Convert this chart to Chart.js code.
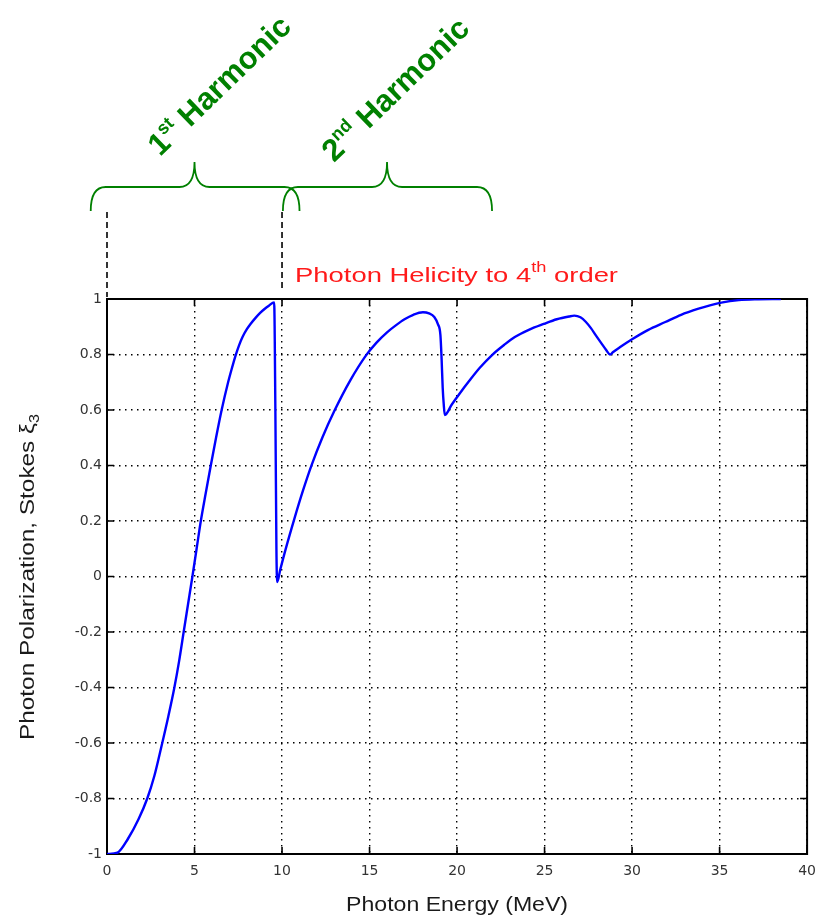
<!DOCTYPE html>
<html>
<head>
<meta charset="utf-8">
<script src="https://cdn.jsdelivr.net/npm/chart.js@4.4.1/dist/chart.umd.min.js"></script>
<style>
    body { margin: 0; background: #fff; }
    #wrap { width: 825px; height: 918px; }
</style>
</head>
<body>
<div id="wrap"><canvas id="helicity-chart" width="825" height="918"></canvas></div>
<script>
// photon energy (MeV) and Stokes xi3
var energy = [0, 0.6, 1.2, 1.8, 2.3, 2.7, 3.1, 3.5, 3.85, 4.12, 4.38, 4.63, 4.88, 5.12, 5.36, 5.64, 5.93,
    6.23, 6.55, 6.92, 7.12, 7.35, 7.55, 7.75, 8.0, 8.2, 8.5, 8.75, 9.0, 9.25, 9.55, 9.62, 9.68, 9.72,
    9.9, 10.2, 10.7, 11.2, 11.7, 12.3, 13.0, 13.9, 14.8, 15.4, 16.0, 16.5, 17.0, 17.5, 18.05, 18.4, 18.7,
    18.9, 19.05, 19.12, 19.18, 19.24, 19.3, 19.7, 20.1, 20.7, 21.3, 22.0, 22.7, 23.3, 24.1, 24.95, 25.7,
    26.4, 26.7, 27.05, 27.35, 27.65, 27.95, 28.25, 28.5, 28.75, 28.9, 29.3, 30.0, 30.9, 31.9, 32.8, 33.8,
    34.5, 35.1, 36.1, 37.0, 38.5];
var stokes = [-1, -0.995, -0.945, -0.875, -0.8, -0.72, -0.615, -0.505, -0.4, -0.305, -0.2, -0.1, 0, 0.1, 0.2, 0.3, 0.4,
    0.5, 0.6, 0.7, 0.747, 0.797, 0.834, 0.864, 0.892, 0.91, 0.933, 0.95, 0.964, 0.976, 0.988, 0.6, 0.1, -0.02,
    0.025, 0.097, 0.207, 0.31, 0.403, 0.5, 0.598, 0.707, 0.797, 0.843, 0.88, 0.905, 0.927, 0.943, 0.952, 0.948, 0.935,
    0.91, 0.87, 0.78, 0.68, 0.62, 0.582, 0.62, 0.655, 0.705, 0.752, 0.798, 0.835, 0.863, 0.889, 0.91, 0.927,
    0.937, 0.94, 0.934, 0.918, 0.895, 0.867, 0.84, 0.818, 0.8, 0.808, 0.826, 0.855, 0.888, 0.917, 0.943, 0.965,
    0.978, 0.987, 0.996, 0.999, 1.0];

var xTickValues = [0, 5, 10, 15, 20, 25, 30, 35, 40];
var yTickValues = [-1, -0.8, -0.6, -0.4, -0.2, 0, 0.2, 0.4, 0.6, 0.8, 1];

// harmonic brackets over the energy axis
var harmonics = [
    {num: '1', sup: 'st', from: -0.93, to: 11.0, mid: 5.0},
    {num: '2', sup: 'nd', from: 10.05, to: 22.0, mid: 16.0}
];
var guideEnergies = [0, 10];

var GREEN = '#008000';
var FONT = '"Liberation Sans", Arial, sans-serif';

function drawParts(ctx, parts) {
    var cx = 0;
    parts.forEach(function (p) {
        ctx.font = p.font;
        ctx.fillText(p.text, cx, p.dy || 0);
        cx += ctx.measureText(p.text).width;
    });
    return cx;
}

function partsWidth(ctx, parts) {
    var w = 0;
    parts.forEach(function (p) {
        ctx.font = p.font;
        w += ctx.measureText(p.text).width;
    });
    return w;
}

// draws text parts fitted to a given length along the text direction
function fittedText(ctx, parts, x, y, angle, length) {
    var w = partsWidth(ctx, parts);
    ctx.save();
    ctx.translate(x, y);
    ctx.rotate(angle);
    ctx.scale(length / w, 1);
    drawParts(ctx, parts);
    ctx.restore();
}

function drawBrace(ctx, x0, x1, xm, yTop, yLine, yEnd) {
    var r = 15;
    ctx.beginPath();
    ctx.moveTo(x0, yEnd);
    ctx.quadraticCurveTo(x0, yLine, x0 + r, yLine);
    ctx.lineTo(xm - r, yLine);
    ctx.quadraticCurveTo(xm, yLine, xm, yTop);
    ctx.quadraticCurveTo(xm, yLine, xm + r, yLine);
    ctx.lineTo(x1 - r, yLine);
    ctx.quadraticCurveTo(x1, yLine, x1, yEnd);
    ctx.stroke();
}

var framePlugin = {
    id: 'frame',
    beforeDatasetsDraw: function (chart) {
        var ctx = chart.ctx;
        var a = chart.chartArea;
        var xs = chart.scales.x;
        var ys = chart.scales.y;
        var len = 7;

        ctx.save();
        ctx.strokeStyle = '#000';
        ctx.lineWidth = 1.6;
        ctx.beginPath();
        xs.ticks.forEach(function (t) {
            var px = xs.getPixelForValue(t.value);
            ctx.moveTo(px, a.bottom);
            ctx.lineTo(px, a.bottom - len);
            ctx.moveTo(px, a.top);
            ctx.lineTo(px, a.top + len);
        });
        ys.ticks.forEach(function (t) {
            var py = ys.getPixelForValue(t.value);
            ctx.moveTo(a.left, py);
            ctx.lineTo(a.left + len, py);
            ctx.moveTo(a.right, py);
            ctx.lineTo(a.right - len, py);
        });
        ctx.stroke();
        ctx.lineWidth = 2;
        ctx.strokeRect(a.left, a.top, a.right - a.left, a.bottom - a.top);
        ctx.restore();
    }
};

var annotationPlugin = {
    id: 'annotations',
    afterDraw: function (chart) {
        var ctx = chart.ctx;
        var a = chart.chartArea;
        var xs = chart.scales.x;

        ctx.save();
        ctx.textBaseline = 'alphabetic';
        ctx.textAlign = 'left';

        // plot title
        ctx.fillStyle = '#ff1a1a';
        fittedText(ctx, [
            {text: 'Photon Helicity to 4', font: '21px ' + FONT},
            {text: 'th', font: '14px ' + FONT, dy: -10},
            {text: ' order', font: '21px ' + FONT}
        ], 295, 282, 0, 323);

        // x axis title
        ctx.fillStyle = '#1a1a1a';
        fittedText(ctx, [{text: 'Photon Energy (MeV)', font: '20px ' + FONT}],
            (a.left + a.right) / 2 - 111, 911, 0, 222);

        // y axis title
        fittedText(ctx, [
            {text: 'Photon Polarization, Stokes \u03BE', font: '21px ' + FONT},
            {text: '3', font: '14px ' + FONT, dy: 5}
        ], 34, 740, -Math.PI / 2, 326);

        // dashed guides from the axis up to the brackets
        ctx.strokeStyle = '#000';
        ctx.lineWidth = 1.6;
        ctx.setLineDash([6, 4]);
        guideEnergies.forEach(function (e, i) {
            var px = xs.getPixelForValue(e);
            ctx.beginPath();
            ctx.moveTo(px, 212);
            ctx.lineTo(px, i === 0 ? 297 : 289);
            ctx.stroke();
        });
        ctx.setLineDash([]);

        // brackets and harmonic labels
        ctx.strokeStyle = GREEN;
        ctx.fillStyle = GREEN;
        ctx.lineWidth = 1.8;
        var labelOrigins = [[160, 157], [334, 163]];
        harmonics.forEach(function (h, i) {
            drawBrace(ctx, xs.getPixelForValue(h.from), xs.getPixelForValue(h.to),
                xs.getPixelForValue(h.mid), 162, 187, 211);
            ctx.save();
            ctx.translate(labelOrigins[i][0], labelOrigins[i][1]);
            ctx.rotate(-44 * Math.PI / 180);
            drawParts(ctx, [
                {text: h.num, font: 'bold 31px ' + FONT},
                {text: h.sup, font: 'bold 18px ' + FONT, dy: -13},
                {text: ' Harmonic', font: 'bold 31px ' + FONT}
            ]);
            ctx.restore();
        });

        ctx.restore();
    }
};

var points = energy.map(function (e, i) {
    return {x: e, y: stokes[i]};
});

new Chart(document.getElementById('helicity-chart'), {
    type: 'line',
    data: {
        datasets: [{
            label: 'xi3',
            data: points,
            borderColor: '#0000ff',
            borderWidth: 2.4,
            pointRadius: 0,
            cubicInterpolationMode: 'monotone',
            fill: false
        }]
    },
    options: {
        responsive: false,
        animation: false,
        devicePixelRatio: 1,
        layout: {padding: {top: 299, right: 16, left: 0, bottom: 0}},
        plugins: {
            legend: {display: false},
            tooltip: {enabled: false}
        },
        scales: {
            x: {
                type: 'linear',
                min: 0,
                max: 40,
                afterBuildTicks: function (scale) {
                    scale.ticks = xTickValues.map(function (v) { return {value: v}; });
                },
                afterFit: function (scale) { scale.height = 64; },
                grid: {color: '#000', lineWidth: 1.4, drawTicks: false},
                border: {display: false, dash: [1.5, 4.5]},
                ticks: {
                    color: '#333',
                    padding: 9,
                    maxRotation: 0,
                    font: {family: 'DejaVu Sans', size: 14},
                    callback: function (v) { return String(v); }
                }
            },
            y: {
                type: 'linear',
                min: -1,
                max: 1,
                afterBuildTicks: function (scale) {
                    scale.ticks = yTickValues.map(function (v) { return {value: v}; });
                },
                afterFit: function (scale) { scale.width = 107; },
                grid: {color: '#000', lineWidth: 1.4, drawTicks: false},
                border: {display: false, dash: [1.5, 4.5]},
                ticks: {
                    color: '#333',
                    padding: 5,
                    font: {family: 'DejaVu Sans', size: 14},
                    callback: function (v) { return String(Number(v.toFixed(1))); }
                }
            }
        }
    },
    plugins: [framePlugin, annotationPlugin]
});
</script>
</body>
</html>
